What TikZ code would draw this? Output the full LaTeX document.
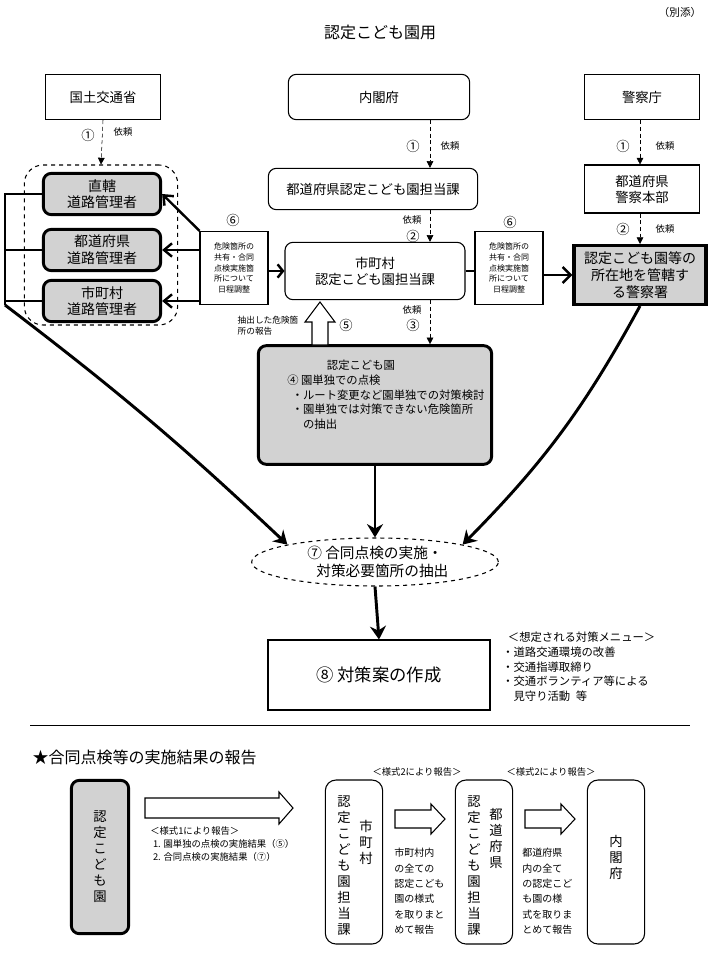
\documentclass[tikz,border=0pt]{standalone}
\usepackage{fontspec}
\setmainfont{Noto Sans CJK JP}
\usetikzlibrary{arrows.meta,shapes.geometric}
% hollow horizontal arrow: x1, y, x2, half shaft, half head, head length
\newcommand\myharrow[6]{\draw[thick,fill=white] (#1,#2-#4) -- (#3-#6,#2-#4) -- (#3-#6,#2-#5) -- (#3,#2) -- (#3-#6,#2+#5) -- (#3-#6,#2+#4) -- (#1,#2+#4) -- cycle;}
\begin{document}
\begin{tikzpicture}[x=0.75pt,y=-0.75pt,
  box/.style={draw,thick,align=center,font=\fontsize{10}{12}\selectfont,inner sep=0pt},
  rbox/.style={box,rounded corners=6pt},
  gbox/.style={draw,line width=2.2pt,rounded corners=6pt,fill=gray!35,align=center,font=\fontsize{10.5}{12.5}\selectfont,inner sep=0pt},
  sbox/.style={draw,thick,align=center,font=\fontsize{6}{8}\selectfont,inner sep=0pt,minimum width=51pt,minimum height=55pt},
  sm/.style={font=\fontsize{7}{9}\selectfont,align=left},
  num/.style={font=\fontsize{10}{10}\selectfont},
  req/.style={densely dashed,-{Triangle[length=5pt,width=5pt]}},
  big/.style={line width=2.2pt,-{Stealth[length=10pt,width=12pt]}},
  vt/.style={align=center,font=\fontsize{10}{12}\selectfont,inner sep=0pt}]
\useasboundingbox (0,0) rectangle (716,960);
\node[font=\fontsize{12}{14}\selectfont] (title) at (380,32) {認定こども園用};
\node[font=\fontsize{8}{10}\selectfont] (bt) at (680,12) {（別添）};
% top boxes
\node[box,minimum width=86pt,minimum height=34pt] (mlit) at (103,97) {国土交通省};
\node[rbox,minimum width=136pt,minimum height=34pt] (cao) at (379,97) {内閣府};
\node[box,minimum width=86pt,minimum height=34pt] (npa) at (642,97) {警察庁};
% dashed region
\node[draw,dashed,thick,rounded corners=14pt,minimum width=115pt,minimum height=120pt] (reg) at (101,245) {};
\node[gbox,minimum width=88pt,minimum height=31pt] (r1) at (102,194) {直轄\\道路管理者};
\node[gbox,minimum width=88pt,minimum height=31pt] (r2) at (102,250) {都道府県\\道路管理者};
\node[gbox,minimum width=88pt,minimum height=31pt] (r3) at (102,301) {市町村\\道路管理者};
\draw[req] (mlit.south) -- (reg.north);
\node[num] (n1a) at (88,135) {①};
\node[sm] (y1a) at (123,132) {依頼};
% center column
\node[rbox,minimum width=157pt,minimum height=31pt] (pref) at (373,189) {都道府県認定こども園担当課};
\node[rbox,minimum width=135pt,minimum height=43pt] (muni) at (375,271) {市町村\\認定こども園担当課};
\draw[req] (cao.south -| 430,0) -- (pref.north -| 430,0);
\node[num] (n1b) at (413,146) {①};
\node[sm] (y1b) at (450,146) {依頼};
\draw[req] (pref.south -| 430,0) -- (muni.north -| 430,0);
\node[sm] (y2b) at (412,220) {依頼};
\node[num] (n2b) at (413,236) {②};
% right column
\node[box,minimum width=86pt,minimum height=36pt] (ppol) at (642,189) {都道府県\\警察本部};
\node[draw,line width=2.5pt,fill=gray!35,align=center,font=\fontsize{10.5}{12.5}\selectfont,inner sep=0pt,minimum width=99pt,minimum height=44pt] (pol) at (640,275) {認定こども園等の\\所在地を管轄す\\る警察署};
\draw[req] (npa.south -| 640,0) -- (ppol.north -| 640,0);
\node[num] (n1c) at (623,146) {①};
\node[sm] (y1c) at (665,146) {依頼};
\draw[req] (ppol.south -| 640,0) -- (pol.north -| 640,0);
\node[num] (n2c) at (623,229) {②};
\node[sm] (y2c) at (665,229) {依頼};
% sixth boxes
\node[sbox] (s6l) at (234,268) {危険箇所の\\共有・合同\\点検実施箇\\所について\\日程調整};
\node[num] (n6l) at (233,220) {⑥};
\node[sbox] (s6r) at (509,268) {危険箇所の\\共有・合同\\点検実施箇\\所について\\日程調整};
\node[num] (n6r) at (510,222) {⑥};
\draw[line width=1.8pt,-{Straight Barb[length=6pt,width=10pt]}] (s6l.north west) -- (r1.east);
\draw[line width=1.8pt,-{Straight Barb[length=6pt,width=10pt]}] (s6l.west |- r2.east) -- (r2.east);
\draw[line width=1.8pt,-{Straight Barb[length=6pt,width=10pt]}] (s6l.west |- r3.east) -- (r3.east);
\draw[line width=1.8pt,-{Straight Barb[length=4pt,width=10pt]}] (s6l.east |- muni.west) -- (muni.west);
\draw[line width=1.8pt] (muni.east) -- (s6r.west |- muni.east);
\draw[line width=1.8pt,-{Straight Barb[length=6pt,width=12pt]}] (s6r.east |- pol.west) -- (pol.west);
% school
\node[gbox,minimum width=175pt,minimum height=89pt] (school) at (375,405) {};
\node[align=left,anchor=north west,font=\fontsize{8.5}{11}\selectfont,inner sep=0pt] (stx) at (287,360)
 {\hspace*{3.5em}認定こども園\\④ 園単独での点検\\\hspace*{0.4em}・ルート変更など園単独での対策検討\\\hspace*{0.4em}・園単独では対策できない危険箇所\\\hspace*{1.4em}の抽出};
\draw[req] (muni.south -| 430,0) -- (school.north -| 430,0);
\node[sm] (y3) at (412,310) {依頼};
\node[num] (n3) at (413,325) {③};
\draw[thick,fill=white] (312,345) -- (312,322) -- (305,322) -- (320,302) -- (335,322) -- (328,322) -- (328,345) -- cycle;
\node[sm,font=\fontsize{6.5}{8}\selectfont] (l5) at (268,326) {抽出した危険箇\\所の報告};
\node[num] (n5) at (346,325) {⑤};
% ellipse
\node[ellipse,draw,dashed,thick,minimum width=185pt,minimum height=36pt,align=center,font=\fontsize{11}{13}\selectfont,inner sep=0pt] (joint) at (375,562) {⑦ 合同点検の実施・\\\hspace*{1em}対策必要箇所の抽出};
\coordinate (bus) at (5,305);
\draw[line width=2pt] (5,193) -- (bus);
\draw[line width=2pt] (5,194) -- (r1.west);
\draw[line width=2pt] (5,250) -- (r2.west);
\draw[line width=2pt] (5,301) -- (r3.west);
\draw[big] (bus) to[bend left=3] (joint.north west);
\draw[big] (school.south) -- (joint.north);
\draw[big] (pol.south) to[bend left=8] (joint.north east);
\node[draw,line width=1.3pt,minimum width=166pt,minimum height=52pt,font=\fontsize{13}{15}\selectfont] (plan) at (379,675) {⑧ 対策案の作成};
\draw[big] (joint.south) -- (plan.north);
\node[anchor=north west,align=left,font=\fontsize{8.5}{11}\selectfont,inner sep=0pt] (menu) at (502,632) {\hspace*{0.5em}＜想定される対策メニュー＞\\・道路交通環境の改善\\・交通指導取締り\\・交通ボランティア等による\\\hspace*{1em}見守り活動\hspace{0.5em}等};
\coordinate (hl) at (30,725); \coordinate (hr) at (690,725);
\draw[thin] (hl) -- (hr);
% bottom
\node[anchor=west,font=\fontsize{12}{14}\selectfont] (head) at (28,757) {★合同点検等の実施結果の報告};
\node[gbox,minimum width=43pt,minimum height=115pt] (b0) at (100,857) {};
\node[vt] (b0t) at (100,857) {認\\定\\こ\\ど\\も\\園};
\node[rbox,minimum width=43pt,minimum height=123pt,rounded corners=8pt] (b1) at (354,862) {};
\node[vt,anchor=north] (b1a) at (344,795) {認\\定\\こ\\ど\\も\\園\\担\\当\\課};
\node[vt,anchor=north] (b1b) at (366,820) {市\\町\\村};
\node[rbox,minimum width=43pt,minimum height=123pt,rounded corners=8pt] (b2) at (484,862) {};
\node[vt,anchor=north] (b2a) at (474,795) {認\\定\\こ\\ど\\も\\園\\担\\当\\課};
\node[vt,anchor=north] (b2b) at (496,808) {都\\道\\府\\県};
\node[rbox,minimum width=43pt,minimum height=123pt,rounded corners=8pt] (b3) at (616,862) {};
\node[vt] (b3t) at (616,857) {内\\閣\\府};
\myharrow{145}{808}{293}{10}{16}{14}
\myharrow{395}{819}{445}{9}{15}{14}
\myharrow{525}{819}{575}{9}{15}{14}
\node[anchor=north west,align=left,font=\fontsize{7}{10}\selectfont,inner sep=0pt] (t1) at (150,826) {＜様式1により報告＞\\\hspace*{0.3em}1. 園単独の点検の実施結果（⑤）\\\hspace*{0.3em}2. 合同点検の実施結果（⑦）};
\node[font=\fontsize{7}{9}\selectfont] (t2) at (417,772) {＜様式2により報告＞};
\node[font=\fontsize{7}{9}\selectfont] (t3) at (551,772) {＜様式2により報告＞};
\node[anchor=north west,align=left,font=\fontsize{7.5}{11.5}\selectfont,inner sep=0pt] (t4) at (394,848) {市町村内\\の全ての\\認定こども\\園の様式\\を取りまと\\めて報告};
\node[anchor=north west,align=left,font=\fontsize{7.5}{11.5}\selectfont,inner sep=0pt] (t5) at (522,848) {都道府県\\内の全て\\の認定こど\\も園の様\\式を取りま\\とめて報告};
\end{tikzpicture}
\end{document}
